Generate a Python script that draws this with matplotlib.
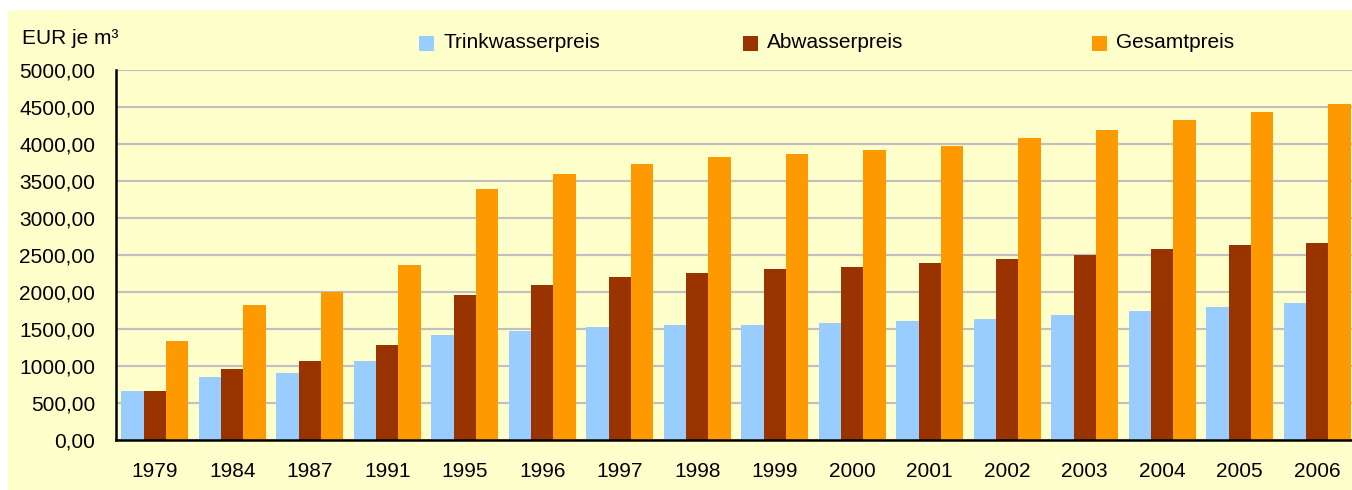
import matplotlib
matplotlib.use('Agg')
import matplotlib.pyplot as plt
import numpy as np
from matplotlib.patches import Rectangle
from matplotlib.ticker import FuncFormatter

plt.rcParams['font.family'] = ['Liberation Sans', 'DejaVu Sans']

# Data (EUR je m³)
years = ['1979', '1984', '1987', '1991', '1995', '1996', '1997', '1998',
         '1999', '2000', '2001', '2002', '2003', '2004', '2005', '2006']
trinkwasser = [668, 855, 909, 1072, 1423, 1477, 1531, 1558,
               1558, 1585, 1612, 1639, 1693, 1747, 1801, 1855]
abwasser = [668, 963, 1072, 1288, 1964, 2099, 2207, 2261,
            2315, 2342, 2396, 2450, 2505, 2585, 2639, 2666]
gesamt = [1342, 1828, 1995, 2369, 3396, 3599, 3734, 3820,
          3869, 3923, 3977, 4085, 4193, 4328, 4437, 4545]

series_names = ['Trinkwasserpreis', 'Abwasserpreis', 'Gesamtpreis']
colors = ['#99CCFF', '#993300', '#FF9900']

fig = plt.figure(figsize=(13.52, 4.90), dpi=100, facecolor='white')
# yellow chart area (behind the axes)
fig.patches.append(Rectangle((8 / 1352, 0), 1 - 8 / 1352, 480 / 490,
                             transform=fig.transFigure, facecolor='#FFFFCC',
                             edgecolor='none', zorder=-5))

ax = fig.add_axes([116 / 1352, 50 / 490, 1240 / 1352, 370 / 490])
ax.set_facecolor('none')

x = np.arange(len(years))
width = 0.29
for i, (vals, name, col) in enumerate(zip([trinkwasser, abwasser, gesamt],
                                          series_names, colors)):
    ax.bar(x + (i - 1) * width, vals, width, color=col, label=name,
           zorder=3, linewidth=0)

ax.set_xlim(-0.5, 15.5)
ax.set_ylim(0, 5000)
ax.set_yticks(np.arange(0, 5001, 500))
ax.yaxis.set_major_formatter(FuncFormatter(lambda v, p: f'{v:.2f}'.replace('.', ',')))
ax.set_xticks(x)
ax.set_xticklabels(years)
ax.tick_params(axis='y', length=0, pad=15, labelsize=15)
ax.tick_params(axis='x', length=0, pad=16, labelsize=15)
ax.grid(axis='y', color='#C0C0C0', linewidth=1.6, zorder=1)
ax.set_axisbelow(True)

for s in ['top', 'right']:
    ax.spines[s].set_visible(False)
for s in ['left', 'bottom']:
    ax.spines[s].set_color('black')
    ax.spines[s].set_linewidth(1.8)
    ax.spines[s].set_zorder(4)

fig.text(22 / 1352, 1 - 38 / 490, 'EUR je m³', fontsize=15, ha='left', va='center')

# legend entries laid out in a row like the original
leg_x = [419, 743, 1092]
for lx, name, col in zip(leg_x, series_names, colors):
    fig.patches.append(Rectangle((lx / 1352, 1 - 51 / 490), 15 / 1352, 15 / 490,
                                 transform=fig.transFigure, facecolor=col,
                                 edgecolor='none', zorder=2))
    fig.text((lx + 24) / 1352, 1 - 43 / 490, name, fontsize=15,
             ha='left', va='center')

fig.savefig('out.png', dpi=100, facecolor='white')
plt.close(fig)
